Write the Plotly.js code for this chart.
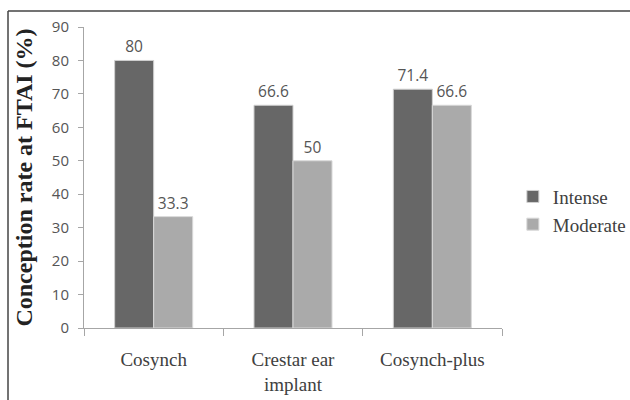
<!DOCTYPE html>
<html>
<head>
<meta charset="utf-8">
<script src="https://cdn.plot.ly/plotly-3.0.1.min.js"></script>
<style>html,body{margin:0;padding:0;background:#fff;}#chart{width:630px;height:400px;}</style>
</head>
<body>
<div id="chart"></div>
<script>
var categories = ["Cosynch", "Crestar ear<br>implant", "Cosynch-plus"];
var intense = [80, 66.6, 71.4];
var moderate = [33.3, 50, 66.6];
var intenseLabels = ["80", "66.6", "71.4"];
var moderateLabels = ["33.3", "50", "66.6"];
var yTicks = [0, 10, 20, 30, 40, 50, 60, 70, 80, 90];

var labelFont = {family: "Open Sans, DejaVu Sans, sans-serif", size: 15.5, color: "#555555"};
var serif = "Liberation Serif, Times New Roman, serif";

var traces = [
  {type: "bar", name: "Intense", x: categories, y: intense, text: intenseLabels,
   textposition: "outside", textfont: labelFont, cliponaxis: false,
   marker: {color: "#676767", line: {color: "#d0d0d0", width: 1}}, hoverinfo: "none"},
  {type: "bar", name: "Moderate", x: categories, y: moderate, text: moderateLabels,
   textposition: "outside", textfont: labelFont, cliponaxis: false,
   marker: {color: "#aaaaaa", line: {color: "#d8d8d8", width: 1}}, hoverinfo: "none"}
];

var layout = {
  width: 630, height: 400,
  margin: {l: 84, r: 128, t: 27, b: 72, autoexpand: false},
  paper_bgcolor: "#ffffff", plot_bgcolor: "#ffffff",
  barmode: "group", bargap: 0.44, bargroupgap: 0,
  showlegend: true,
  legend: {x: 1.026, y: 0.39, xanchor: "left", yanchor: "middle",
           font: {family: serif, size: 19, color: "#404040"},
           tracegroupgap: 6, itemwidth: 30},
  xaxis: {type: "category", showline: true, linecolor: "#a6a6a6", linewidth: 1,
          ticks: "outside", tickson: "boundaries", ticklen: 7, tickcolor: "#a6a6a6",
          ticklabelstandoff: 14, automargin: false,
          tickfont: {family: serif, size: 19, color: "#404040"}, showgrid: false},
  yaxis: {range: [0, 90], tickvals: yTicks, showline: true, linecolor: "#a6a6a6",
          linewidth: 1, ticks: "outside", ticklen: 5, tickcolor: "#a6a6a6",
          ticklabelstandoff: 6, automargin: false,
          showgrid: false, zeroline: false,
          tickfont: {family: "Open Sans, DejaVu Sans, sans-serif", size: 15, color: "#555555"},
          title: {text: "<b>Conception rate at FTAI (%)</b>", standoff: 12,
                  font: {family: serif, size: 24, color: "#222222"}}},
  shapes: [
    {type: "line", xref: "paper", yref: "paper", x0: -0.1818, x1: 1.31, y0: 1.0532, y1: 1.0532,
     line: {color: "#444444", width: 1.5}},
    {type: "line", xref: "paper", yref: "paper", x0: -0.1818, x1: -0.1818, y0: 1.0532, y1: -0.25,
     line: {color: "#444444", width: 1.5}}
  ]
};

Plotly.newPlot("chart", traces, layout, {displayModeBar: false, staticPlot: true});
</script>
</body>
</html>
